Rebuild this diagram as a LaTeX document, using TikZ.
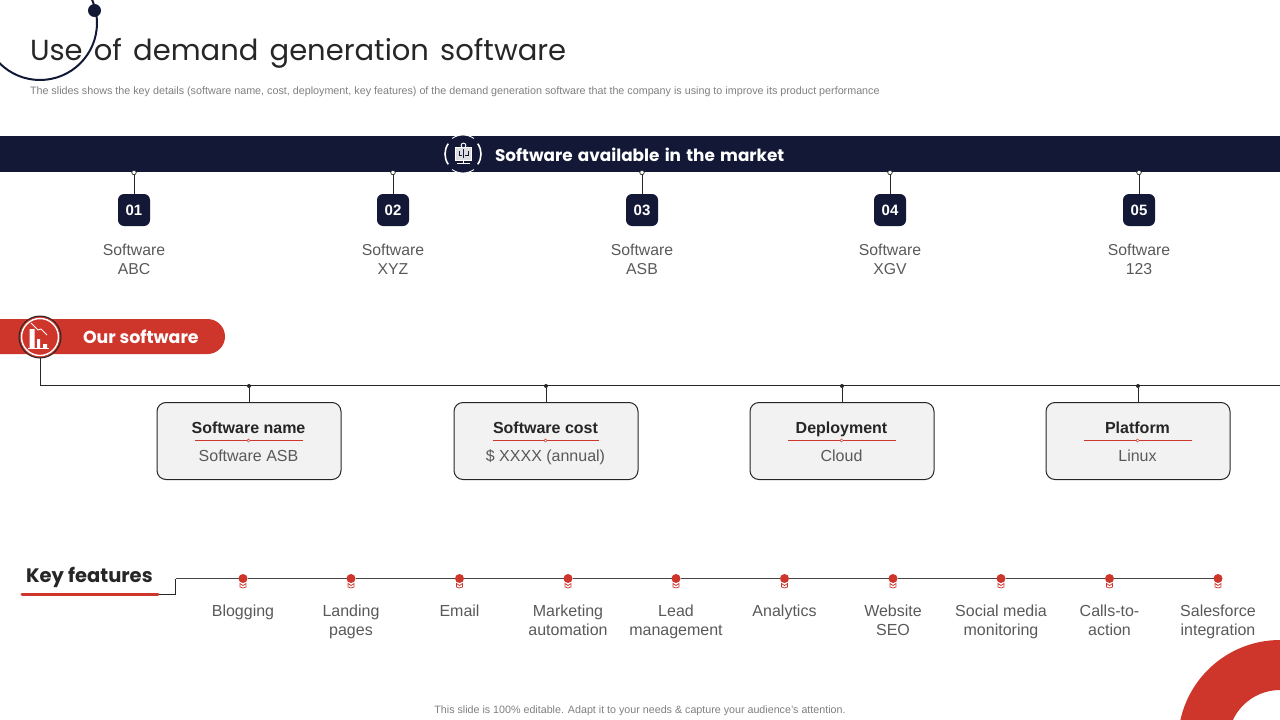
\documentclass[tikz,border=0pt]{standalone}
\usepackage{fontspec}
\setmainfont{Liberation Sans}
\newfontfamily\headfont{Poppins}
\definecolor{navy}{HTML}{131836}
\definecolor{brick}{HTML}{CE352B}
\definecolor{ink}{HTML}{262626}
\definecolor{bodygrey}{HTML}{595959}
\definecolor{notegrey}{HTML}{7F7F7F}
\definecolor{panel}{HTML}{F2F2F2}
\tikzset{
  x=1pt,y=-1pt,
  every node/.style={inner sep=0pt,outer sep=0pt},
  wire/.style={draw=ink,line width=1pt},
  keywire/.style={draw=ink!85,line width=1.3pt},
  numbox/.style={fill=navy,rounded corners=6pt,minimum width=32pt,minimum height=32pt,text=white,font=\fontsize{15}{18}\selectfont\bfseries},
  marketlabel/.style={align=center,text=bodygrey,font=\fontsize{15.8}{19}\selectfont},
  hollowdot/.style={circle,draw=ink,fill=white,line width=.7pt,minimum size=4.5pt},
  blackdot/.style={circle,fill=ink,minimum size=4pt},
  infobox/.style={draw=ink,fill=panel,line width=1pt,rounded corners=9pt,minimum width=184pt,minimum height=77pt},
  infotitle/.style={anchor=base,text=ink,font=\fontsize{16}{19}\selectfont\bfseries},
  infovalue/.style={anchor=base,text=bodygrey,font=\fontsize{16}{19}\selectfont},
  redrule/.style={draw=brick,line width=1pt},
  reddot/.style={circle,fill=brick,minimum size=9pt},
  feature/.style={align=center,text=bodygrey,font=\fontsize{16}{19}\selectfont},
  minired/.style={draw=brick,line width=.7pt,fill=white}
}
\begin{document}
\begin{tikzpicture}
\useasboundingbox (0,0) rectangle (1280,720);
% corner decorations
\begin{scope}
\clip (0,0) rectangle (1280,720);
\draw[navy,line width=2pt] (40,23) circle[radius=57];
\fill[brick,even odd rule] (1280,742) circle[radius=102] (1280,742) circle[radius=52];
\end{scope}
\node[circle,fill=navy,minimum size=13pt] (topdot) at (94.5,10.5) {};
% title
\node[anchor=west,text=ink,font=\headfont\fontsize{29}{36}\selectfont] (title) at (30,53) {Use\hspace{.12em} of\hspace{.12em} demand\hspace{.12em} generation\hspace{.12em} software};
\node[anchor=west,text=notegrey,font=\fontsize{10.75}{12}\selectfont] (subtitle) at (30,92) {The slides shows the key details (software name, cost, deployment, key features) of the demand generation software that the company is using to improve its product performance};
% market bar
\node[fill=navy,minimum width=1280pt,minimum height=36pt,anchor=north west] (bar) at (0,136) {};
\node[circle,fill=navy,minimum size=38pt] (baricon) at (463,154) {};
\draw[white,line width=1.6pt] (463,154) ++(-35:18) arc(-35:35:18);
\draw[white,line width=1.6pt] (463,154) ++(145:18) arc(145:215:18);
\draw[white,line width=.9pt] (463,154) ++(55:19) arc(55:125:19);
\draw[white,line width=.9pt] (463,154) ++(235:19) arc(235:305:19);
\draw[white,fill=white!85!navy,line width=.9pt] (455.5,147) rectangle (471.5,160);
\draw[navy,line width=.6pt] (459,151) -- (459,155) -- (462,155) (468,151) -- (468,155) -- (465,155) (463.5,149) -- (463.5,158);
\draw[white,line width=1.2pt] (463.5,160) -- (463.5,163) (457,163.5) -- (470,163.5);
\draw[white,fill=navy,line width=.9pt] (463.5,145.5) circle[radius=2.4];
\node[anchor=west,text=white,font=\headfont\bfseries\fontsize{16.85}{21}\selectfont] (bartext) at (495,154.5) {Software\hspace{.1em} available\hspace{.1em} in\hspace{.1em} the\hspace{.1em} market};
% market items
\foreach \n/\x/\a in {01/134/ABC,02/393/XYZ,03/642/ASB,04/890/XGV,05/1139/123}{
  \node[numbox] (num\n) at (\x,210) {\n};
  \node[hollowdot] (tick\n) at (\x,172.5) {};
  \draw[wire] (tick\n) -- (num\n);
  \node[marketlabel] (mk\n) at (\x,259.5) {Software\\\a};
}
% our software
\path[fill=brick] (0,319) -- (207.5,319) arc(-90:90:17.5) -- (0,354) -- cycle;
\node[circle,fill=brick,draw=ink,line width=1pt,minimum size=42pt] (oursw) at (40,337) {};
\draw[white,line width=1.4pt] (40,337) circle[radius=18.5];
\draw[white,line width=.9pt] (31,323) -- (38,330) -- (41,329) -- (47,335);
\fill[white] (29.5,329) -- (34.5,329) -- (34.5,348) -- (29.5,348) -- cycle (37,339) rectangle (40,348) (43,344) rectangle (47,348);
\draw[white,line width=1pt] (28,348.5) -- (49,348.5);
\node[anchor=west,text=white,font=\headfont\bfseries\fontsize{17.4}{20}\selectfont] (ourtext) at (83,337) {Our software};
\coordinate (railend) at (1280,385);
\coordinate (railcorner) at (40,385);
\draw[wire] (oursw.south) -- (railcorner) -- (railend);
\foreach \k/\x/\t/\v/\l in {a/249/Software name/Software ASB/54,b/546/Software cost/\$ XXXX (annual)/53,c/842/Deployment/Cloud/54,d/1138/Platform/Linux/54}{
  \node[infobox] (box\k) at (\x,441) {};
  \node[blackdot] (rail\k) at (\x,386) {};
  \draw[wire] (rail\k) -- (box\k);
  \node[infotitle] at (\x-.5,433.5) {\t};
  \draw[redrule] (\x-\l,440.5) -- (\x+\l,440.5);
  \fill[white] (\x-.5,440.5) circle[radius=1.6];
  \draw[brick,line width=.5pt] (\x-.5,440.5) circle[radius=1.6];
  \node[infovalue] at (\x-.5,461.5) {\v};
}
% key features
\node[anchor=west,text=ink,font=\headfont\bfseries\fontsize{19.5}{24}\selectfont] (keytext) at (26,577) {Key features};
\draw[brick,line width=3pt,line cap=round] (22,594) -- (158,594);
\coordinate (keyend) at (159,594);
\coordinate (keyup) at (175.5,578.5);
\foreach \i/\x/\t in {1/243/Blogging,2/351/Landing\\pages,3/459.5/Email,4/568/Marketing\\automation,5/676/Lead\\management,6/784.5/Analytics,7/893/Website\\SEO,8/1001/Social media\\monitoring,9/1109.5/Calls-to-\\action,10/1218/Salesforce\\integration}{
  \node[reddot] (fd\i) at (\x,578.5) {};
  \draw[minired] (\x-3,583.5) -- (\x,585.5) -- (\x+3,583.5) -- (\x+3,587) -- (\x,588) -- (\x-3,587) -- cycle;
  \node[feature,anchor=north] (ft\i) at (\x,605) {\t};
}
\draw[wire] (keyend) -| (keyup);
\draw[keywire] (keyup) -- (fd1);
\foreach \a/\b in {1/2,2/3,3/4,4/5,5/6,6/7,7/8,8/9,9/10}{ \draw[keywire] (fd\a) -- (fd\b); }
% footer
\node[text=notegrey,font=\fontsize{10.7}{12}\selectfont] (footer) at (640,711) {This slide is 100\% editable.  Adapt it to your needs \& capture your audience's attention.};
\end{tikzpicture}
\end{document}
